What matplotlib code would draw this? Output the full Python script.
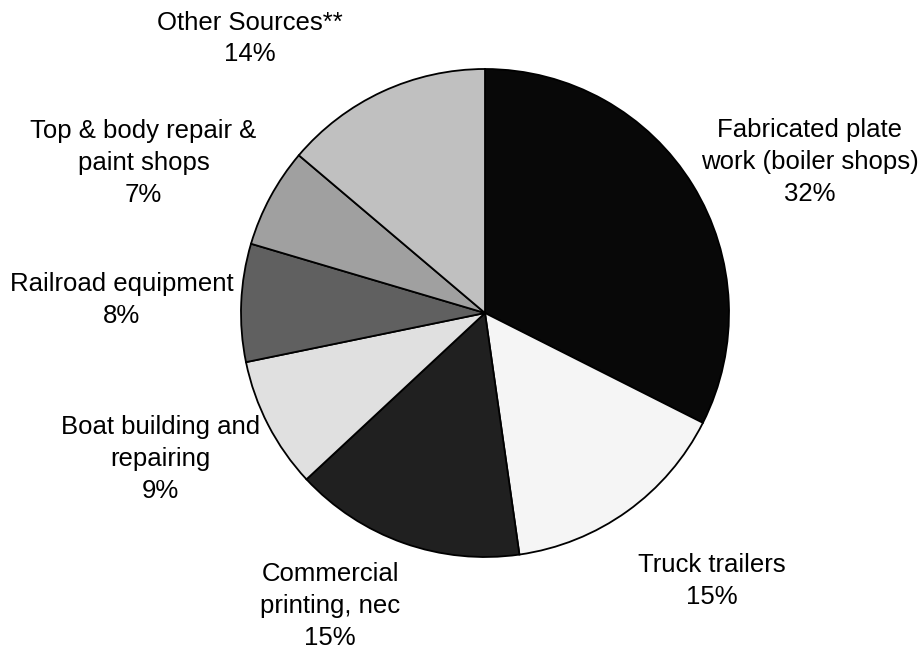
import matplotlib.pyplot as plt

plt.rcParams['font.family'] = ['Liberation Sans', 'DejaVu Sans']

# slice data, clockwise from 12 o'clock
labels = ['Fabricated plate\nwork (boiler shops)', 'Truck trailers',
          'Commercial\nprinting, nec', 'Boat building and\nrepairing',
          'Railroad equipment', 'Top & body repair &\npaint shops',
          'Other Sources**']
shares = [32.4, 15.3, 15.3, 8.7, 7.8, 6.6, 13.8]
shown_pct = [32, 15, 15, 9, 8, 7, 14]
greys = ['#080808', '#f5f5f5', '#202020', '#e0e0e0', '#606060', '#a0a0a0', '#c0c0c0']

# label anchor points, in units of pie radius
label_pos = [(1.33, 0.62), (0.93, -1.10), (-0.635, -1.20), (-1.33, -0.60),
             (-1.49, 0.055), (-1.40, 0.615), (-0.965, 1.125)]

W, H = 921, 649
cx, cy, r = 485, 313, 244

fig = plt.figure(figsize=(W / 100, H / 100), dpi=100)
ax = fig.add_axes([(cx - r) / W, (H - cy - r) / H, 2 * r / W, 2 * r / H])
ax.pie(shares, colors=greys, startangle=90, counterclock=False, radius=1,
       wedgeprops=dict(edgecolor='black', linewidth=1.3))
ax.set_xlim(-1, 1)
ax.set_ylim(-1, 1)
ax.set_aspect('equal')
ax.axis('off')

for lab, pct, (x, y) in zip(labels, shown_pct, label_pos):
    ax.text(x, y, f'{lab}\n{pct}%', ha='center', va='center', fontsize=18.5,
            linespacing=1.42, color='black')

fig.savefig('out.png', dpi=100, facecolor='white')
